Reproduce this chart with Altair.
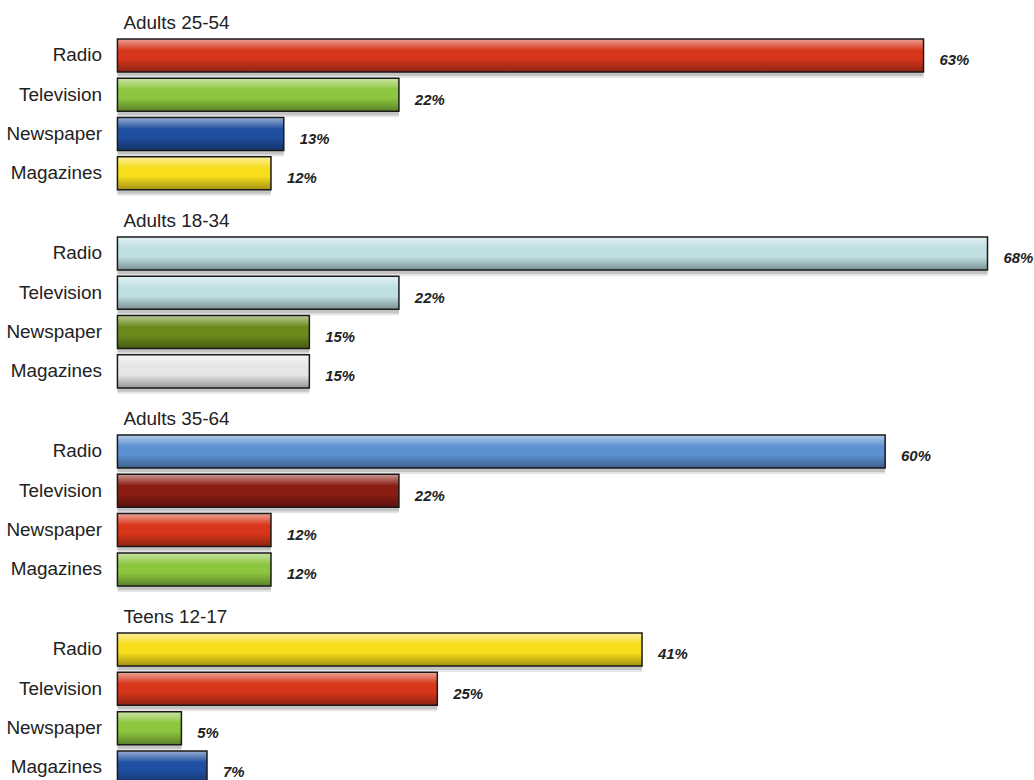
import altair as alt
import pandas as pd

groups = ["Adults 25-54", "Adults 18-34", "Adults 35-64", "Teens 12-17"]
media = ["Radio", "Television", "Newspaper", "Magazines"]

values_25_54 = [63, 22, 13, 12]
values_18_34 = [68, 22, 15, 15]
values_35_64 = [60, 22, 12, 12]
values_teens = [41, 25, 5, 7]

colors_25_54 = ["#d8361a", "#8dc63f", "#1f4fa0", "#f7dd1c"]
colors_18_34 = ["#bfdfe3", "#bfdfe3", "#6b8a1c", "#e6e6e6"]
colors_35_64 = ["#5d91d2", "#8a1c12", "#d8361a", "#8dc63f"]
colors_teens = ["#f7dd1c", "#d8361a", "#8dc63f", "#1f4fa0"]

values = [values_25_54, values_18_34, values_35_64, values_teens]
colors = [colors_25_54, colors_18_34, colors_35_64, colors_teens]

FONT = "Liberation Sans, Arial, sans-serif"

gloss = alt.Gradient(
    gradient="linear",
    stops=[
        alt.GradientStop(color="rgba(255,255,255,0.55)", offset=0),
        alt.GradientStop(color="rgba(255,255,255,0.0)", offset=0.35),
        alt.GradientStop(color="rgba(0,0,0,0.0)", offset=0.6),
        alt.GradientStop(color="rgba(0,0,0,0.35)", offset=1),
    ],
    x1=0, x2=0, y1=0, y2=1,
)


def panel(title, vals, cols):
    df = pd.DataFrame({
        "media": media,
        "value": vals,
        "color": cols,
        "label": [f"{v}%" for v in vals],
    })
    base = alt.Chart(df).encode(
        y=alt.Y(
            "media:N", sort=media,
            scale=alt.Scale(paddingInner=0.16, paddingOuter=0.08),
            axis=alt.Axis(title=None, ticks=False, domain=False, labelFontSize=19,
                          labelFont=FONT, labelColor="#222222", labelPadding=16,
                          minExtent=112, maxExtent=112),
        ),
        x=alt.X("value:Q", scale=alt.Scale(domain=[0, 70]), axis=None),
    )
    shadow1 = base.mark_bar(color="#000000", opacity=0.10, yOffset=6, x2Offset=5)
    shadow2 = base.mark_bar(color="#000000", opacity=0.15, yOffset=4, x2Offset=3)
    bars = base.mark_bar().encode(color=alt.Color("color:N", scale=None))
    shine = base.mark_bar(fill=gloss)
    outline = base.mark_bar(fillOpacity=0, stroke="#1a1a1a", strokeWidth=1.5)
    text = base.mark_text(
        align="left", dx=16, dy=5, font=FONT, fontSize=15,
        fontStyle="italic", fontWeight="bold", color="#222222",
    ).encode(text="label:N")
    return alt.layer(shadow1, shadow2, bars, shine, outline, text).properties(
        width=900, height=158,
        title=alt.TitleParams(title, anchor="start", frame="group", font=FONT, fontSize=19,
                              fontWeight="normal", color="#222222", dx=6, offset=3),
    )


chart = alt.vconcat(
    *[panel(g, v, c) for g, v, c in zip(groups, values, colors)], spacing=16
).properties(
    padding={"left": 5, "top": 12, "right": 0, "bottom": 0}
).configure(background="white").configure_view(stroke=None)

chart.save("out.html", embed_options={"renderer": "svg", "actions": False})
